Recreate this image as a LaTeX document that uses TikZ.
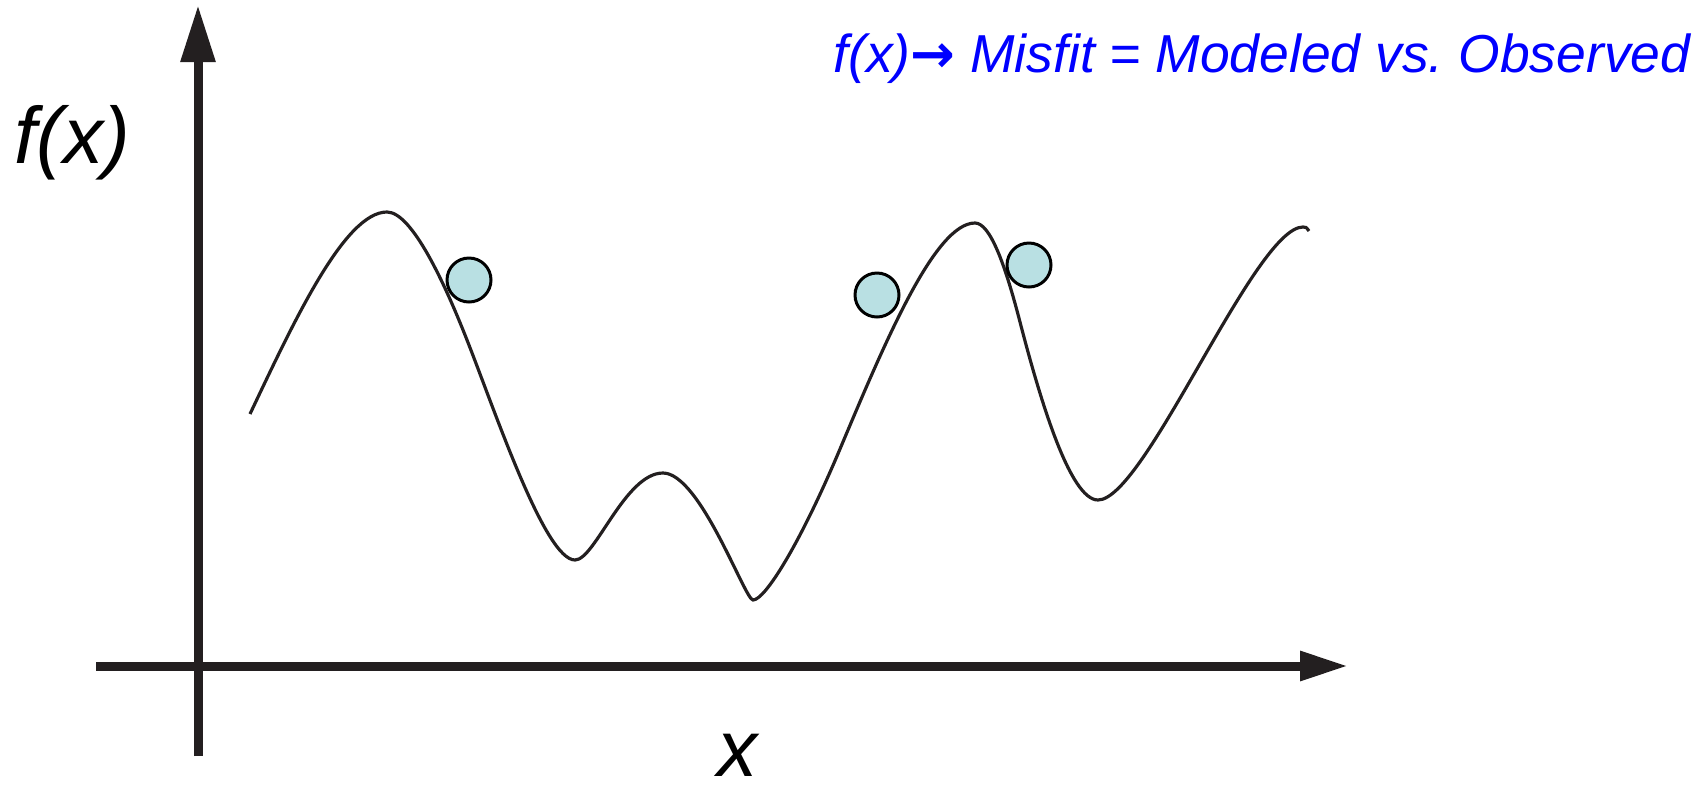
\documentclass[tikz,border=0pt]{standalone}
\usepackage{fontspec}
\setmainfont{Liberation Sans}
\newfontfamily\arrowfont{DejaVu Sans}
\usetikzlibrary{arrows.meta}
\definecolor{inkgray}{HTML}{231F20}
\definecolor{dotblue}{HTML}{B9E0E3}
\definecolor{titleblue}{HTML}{0000FF}
\begin{document}
\begin{tikzpicture}[x=1cm,y=1cm,
    axis/.style={line width=0.09cm,draw=inkgray},
    misfit/.style={circle,draw=black,line width=0.85pt,fill=dotblue,
        minimum size=4.4mm,inner sep=0pt},
    biglabel/.style={font=\fontsize{22.8}{26}\selectfont\itshape,inner sep=0pt}]
    \useasboundingbox (0,0) rectangle (17.05,7.84);

    % axes
    \draw[axis,-{Triangle[length=5.7mm,width=3.3mm]}] (1.98,0.28) -- (1.98,7.79);
    \draw[axis,-{Triangle[length=4.8mm,width=2.8mm]}] (0.96,1.18) -- (13.48,1.18);
    \node[biglabel,anchor=base west] (fx-label) at (0.14,6.21) {f(x)};
    \node[biglabel,anchor=base] (x-label) at (7.38,0.08) {x};

    % objective function
    \draw[inkgray,line width=0.9pt]
        (2.50,3.70) .. controls (2.95,4.65) and (3.45,5.72) .. (3.87,5.72)
        .. controls (4.12,5.72) and (4.45,5.00) .. (4.67,4.44)
        .. controls (4.95,3.73) and (5.45,2.24) .. (5.75,2.24)
        .. controls (5.95,2.24) and (6.25,3.11) .. (6.63,3.11)
        .. controls (7.00,3.11) and (7.45,1.84) .. (7.53,1.84)
        .. controls (7.65,1.84) and (8.00,2.40) .. (8.40,3.35)
        .. controls (8.85,4.42) and (9.35,5.61) .. (9.75,5.61)
        .. controls (9.90,5.61) and (10.05,5.20) .. (10.20,4.62)
        .. controls (10.40,3.85) and (10.70,2.84) .. (10.98,2.84)
        .. controls (11.45,2.84) and (12.55,5.57) .. (13.03,5.57)
        .. controls (13.06,5.57) .. (13.09,5.53);

    % observed points
    \node[misfit] (obs-a) at (4.69,5.04) {};
    \node[misfit] (obs-b) at (8.77,4.89) {};
    \node[misfit] (obs-c) at (10.29,5.19) {};

    \node[anchor=base east,inner sep=0pt,text=titleblue,
        font=\fontsize{15.2}{18}\selectfont\itshape]
        (title-label) at (16.91,7.12)
        {f(x){\arrowfont\bfseries\upshape →} Misfit = Modeled vs.\ Observed};
\end{tikzpicture}
\end{document}
